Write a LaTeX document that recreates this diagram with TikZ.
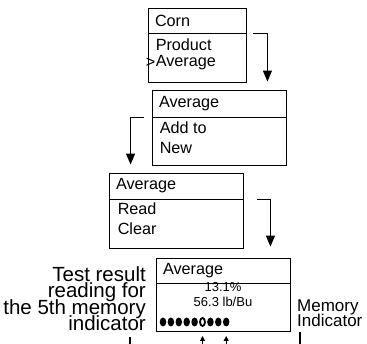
\documentclass[tikz,border=0pt]{standalone}
\usepackage{fontspec}
\setmainfont{Liberation Sans}
\usetikzlibrary{arrows.meta,shapes.geometric}

\begin{document}
\begin{tikzpicture}[x=1pt, y=-1pt,
    screen/.style  = {draw, line width=0.9pt, inner sep=0pt},
    head/.style    = {screen, align=left, inner xsep=7pt, font=\fontsize{16.2}{18}\selectfont},
    panel/.style   = {screen, anchor=north},
    item/.style    = {inner sep=0pt, anchor=west, font=\fontsize{16.2}{18}\selectfont},
    reading/.style = {inner sep=0pt, font=\fontsize{13}{14}\selectfont},
    callout/.style = {inner sep=0pt},
    flow/.style    = {line width=1.3pt, -{Triangle[width=9pt,length=11pt]}},
    pointer/.style = {line width=1.1pt, -{Triangle[width=5pt,length=5pt]}},
    leader/.style  = {line width=1.1pt},
    dot/.style     = {ellipse, fill, inner sep=0pt, minimum width=6.5pt, minimum height=9pt},
    hole/.style    = {ellipse, draw, fill=white, line width=1.8pt, inner sep=0pt,
                      minimum width=5pt, minimum height=8pt}]
  \useasboundingbox (0,0) rectangle (367,344);

  % first screen
  \node[head, minimum height=25pt, text width=84pt] (cornh) at (197,20.5) {Corn};
  \node[panel, minimum width=98pt, minimum height=49pt] (cornb) at (cornh.south) {};
  \node[item] (prod) at ([xshift=8pt,yshift=-11pt]cornb.north west) {Product};
  \node[item] (avg) at ([yshift=-18pt]prod.west) {Average};
  \node[item, anchor=east] (sel) at (avg.west) {>};

  % second screen
  \node[head, minimum height=27pt, text width=120pt] (avgah) at (219,103.5) {Average};
  \node[panel, minimum width=134pt, minimum height=48pt] (avgab) at (avgah.south) {};
  \node[item] (addto) at ([xshift=8pt,yshift=-10pt]avgab.north west) {Add to};
  \node[item] (new) at ([yshift=-21pt]addto.west) {New};

  % third screen
  \node[head, minimum height=26pt, text width=120pt] (avgbh) at (176,186) {Average};
  \node[panel, minimum width=134pt, minimum height=49pt] (avgbb) at (avgbh.south) {};
  \node[item] (read) at ([xshift=9pt,yshift=-9pt]avgbb.north west) {Read};
  \node[item] (clear) at ([yshift=-20pt]read.west) {Clear};

  % result screen
  \node[head, minimum height=25pt, text width=120pt] (avgch) at (223,270.5) {Average};
  \node[panel, minimum width=134pt, minimum height=48pt] (avgcb) at (avgch.south) {};
  \node[reading] (moist) at ([yshift=-4pt]avgcb.north) {13.1\%};
  \node[reading] (weight) at ([yshift=-18pt]avgcb.north) {56.3 lb/Bu};
  \foreach \i in {0,...,8}{
    \ifnum\i=5
      \node[hole] (d\i) at (163+7.9*\i,322) {};
    \else
      \node[dot] (d\i) at (163+7.9*\i,322) {};
    \fi
  }

  % labels
  \node[callout, align=right, anchor=north east,
        font={\fontsize{20.5}{16.5}\selectfont\lineskiplimit=-20pt\relax}]
    (result) at (146,266) {Test result\\reading for\\the 5th memory\\indicator};
  \node[callout, align=left, anchor=north west,
        font={\fontsize{17}{14.5}\selectfont\lineskiplimit=-20pt\relax}]
    (memory) at (297,300) {Memory\\Indicator};

  % steps
  \draw[flow] ([xshift=7pt]cornh.south east) -| ([xshift=-19pt,yshift=8pt]avgah.north east);
  \draw[flow] ([xshift=-8pt]avgah.south west) -| ([xshift=22pt,yshift=8pt]avgbh.north west);
  \draw[flow] ([xshift=14pt]avgbh.south east) -| ([xshift=-20pt,yshift=11pt]avgch.north east);

  % pointers
  \coordinate (resultfoot) at (130,344);
  \coordinate (memfoot) at (300,344);
  \draw[leader] ([yshift=-6pt]result.south -| resultfoot) -- (resultfoot);
  \draw[leader] ([yshift=-5pt]memory.south -| memfoot) -- (memfoot);
  \draw[pointer] (d5 |- 0,344) -- ([yshift=-14pt]d5.center);
  \draw[pointer] (d8 |- 0,344) -- ([yshift=-14pt]d8.center);
\end{tikzpicture}
\end{document}
